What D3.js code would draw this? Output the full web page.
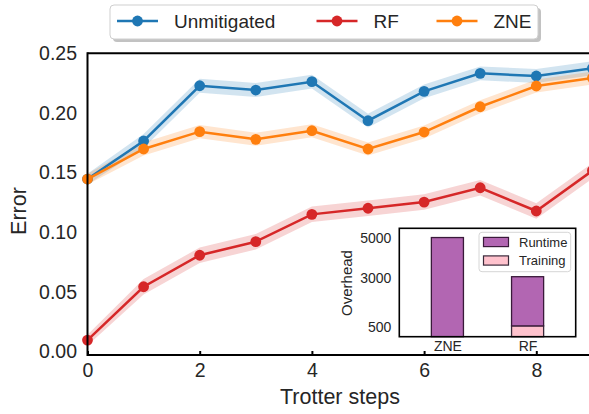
<!DOCTYPE html>
<html>
<head>
<meta charset="utf-8">
<script src="https://cdn.jsdelivr.net/npm/d3@7"></script>
<style>
  html, body { margin: 0; padding: 0; background: #fff; }
  svg { display: block; font-family: "Liberation Sans", Arial, sans-serif; }
</style>
</head>
<body>
<svg id="chart" width="589" height="414"></svg>
<script>
// ---------- data ----------
const steps = [0, 1, 2, 3, 4, 5, 6, 7, 8, 9];
const unmitigated = [0.1446, 0.1765, 0.2228, 0.2192, 0.2262, 0.1935, 0.2181, 0.2332, 0.2310, 0.2374];
const zne         = [0.1446, 0.1698, 0.1843, 0.1779, 0.1851, 0.1698, 0.1840, 0.2052, 0.2226, 0.2293];
const rf          = [0.0096, 0.0543, 0.0807, 0.0921, 0.1150, 0.1201, 0.1253, 0.1373, 0.1178, 0.1516];
const unmitigatedErr = [0.0045, 0.0058, 0.0058, 0.0058, 0.0058, 0.0058, 0.0058, 0.0058, 0.0058, 0.0058];
const zneErr         = [0.0045, 0.0055, 0.0055, 0.0055, 0.0055, 0.0055, 0.0055, 0.0055, 0.0055, 0.0055];
const rfErr          = [0.0045, 0.0065, 0.0065, 0.0065, 0.0065, 0.0065, 0.0065, 0.0065, 0.0065, 0.0065];
const xTicks = [0, 2, 4, 6, 8];
const yTicks = [0.00, 0.05, 0.10, 0.15, 0.20, 0.25];

const insetCategories = ["ZNE", "RF"];
const insetRuntime  = [5040, 2500];
const insetTraining = [0, 550];
const insetYTicks = [500, 3000, 5000];

const seriesNames = ["Unmitigated", "RF", "ZNE"];
const seriesColors = {"Unmitigated": "#1f77b4", "RF": "#d62728", "ZNE": "#ff7f0e"};

// ---------- layout ----------
const svg = d3.select("#chart");
const pLeft = 87.5, pTop = 53.3, pBottom = 355;
const x = d3.scaleLinear().domain([0, 9]).range([pLeft, pLeft + 9 * 56.1]);
const y = d3.scaleLinear().domain([-0.0029, 0.25]).range([pBottom, pTop]);
const pRight = x(9);

const series = [
  {name: "Unmitigated", values: unmitigated, err: unmitigatedErr},
  {name: "ZNE", values: zne, err: zneErr},
  {name: "RF", values: rf, err: rfErr}
];

const gData = svg.append("g");
const area = d3.area()
  .x(d => x(d.s)).y0(d => y(d.v - d.e)).y1(d => y(d.v + d.e));
const line = d3.line().x(d => x(d.s)).y(d => y(d.v));

series.forEach(sr => {
  const pts = steps.map((s, i) => ({s, v: sr.values[i], e: sr.err[i]}));
  gData.append("path").datum(pts)
    .attr("d", area).attr("fill", seriesColors[sr.name]).attr("fill-opacity", 0.2);
});
series.forEach(sr => {
  const pts = steps.map((s, i) => ({s, v: sr.values[i]}));
  gData.append("path").datum(pts)
    .attr("d", line).attr("fill", "none")
    .attr("stroke", seriesColors[sr.name]).attr("stroke-width", 2.5);
  gData.selectAll(null).data(pts).enter().append("circle")
    .attr("cx", d => x(d.s)).attr("cy", d => y(d.v)).attr("r", 5.4)
    .attr("fill", seriesColors[sr.name]);
});

// spines
svg.append("line").attr("x1", pLeft).attr("x2", 600).attr("y1", pTop).attr("y2", pTop)
  .attr("stroke", "#000").attr("stroke-width", 2);
svg.append("line").attr("x1", pLeft).attr("x2", 600).attr("y1", pBottom).attr("y2", pBottom)
  .attr("stroke", "#000").attr("stroke-width", 2);
svg.append("line").attr("x1", pLeft).attr("x2", pLeft).attr("y1", pTop - 1).attr("y2", pBottom + 1)
  .attr("stroke", "#000").attr("stroke-width", 2);

// x axis
const xAxis = d3.axisBottom(x).tickValues(xTicks).tickFormat(d3.format("d")).tickSize(0).tickPadding(0);
const gx = svg.append("g").attr("transform", `translate(0,${pBottom})`).call(xAxis);
gx.select(".domain").remove();
gx.selectAll(".tick text").attr("font-size", 19.5).attr("fill", "#262626").attr("y", 22).attr("dy", 0);
gx.selectAll(".tick").append("line").attr("y1", 0).attr("y2", -4)
  .attr("stroke", "#000").attr("stroke-width", 2);

// y axis
const yAxis = d3.axisLeft(y).tickValues(yTicks).tickFormat(d3.format(".2f")).tickSize(0).tickPadding(10.5);
const gy = svg.append("g").attr("transform", `translate(${pLeft},0)`).call(yAxis);
gy.select(".domain").remove();
gy.selectAll(".tick text").attr("font-size", 19.5).attr("fill", "#262626");

// axis labels
svg.append("text").attr("x", (pLeft + pRight) / 2).attr("y", 404)
  .attr("text-anchor", "middle").attr("font-size", 21.5).attr("fill", "#262626").text("Trotter steps");
svg.append("text").attr("transform", `translate(26,211) rotate(-90)`)
  .attr("text-anchor", "middle").attr("font-size", 21.5).attr("fill", "#262626").text("Error");

// ---------- main legend ----------
const lg = svg.append("g");
lg.append("rect").attr("x", 113).attr("y", 8).attr("width", 428).attr("height", 34).attr("rx", 4)
  .attr("fill", "#9a9a9a").attr("fill-opacity", 0.6);
lg.append("rect").attr("x", 110).attr("y", 5).attr("width", 428).attr("height", 34).attr("rx", 4)
  .attr("fill", "#fff").attr("stroke", "#cfcfcf").attr("stroke-width", 1);
const legendX = {"Unmitigated": 117, "RF": 316.5, "ZNE": 436.5};
seriesNames.forEach(n => {
  const lx = legendX[n];
  lg.append("line").attr("x1", lx).attr("x2", lx + 41).attr("y1", 21).attr("y2", 21)
    .attr("stroke", seriesColors[n]).attr("stroke-width", 2.5);
  lg.append("circle").attr("cx", lx + 20.5).attr("cy", 21).attr("r", 5.4).attr("fill", seriesColors[n]);
  lg.append("text").attr("x", lx + 57).attr("y", 21).attr("dy", "0.36em")
    .attr("font-size", 19).attr("fill", "#262626").text(n);
});

// ---------- inset ----------
const iL = 399.3, iR = 575.7, iT = 228.3, iB = 336.7;
const ix = d3.scaleLinear().domain([-0.6, 1.6]).range([iL, iR]);
const iy = d3.scaleLinear().domain([0, 5510]).range([iB, iT]);
const gi = svg.append("g");
gi.append("rect").attr("x", iL).attr("y", iT).attr("width", iR - iL).attr("height", iB - iT)
  .attr("fill", "#fff");
const bw = 0.4;
insetCategories.forEach((c, i) => {
  const t = insetTraining[i], r = insetRuntime[i];
  if (t > 0) {
    gi.append("rect").attr("x", ix(i - bw / 2)).attr("width", ix(bw) - ix(0))
      .attr("y", iy(t)).attr("height", iy(0) - iy(t))
      .attr("fill", "#ffc2cd").attr("stroke", "#3a2a3a").attr("stroke-width", 1.3);
  }
  gi.append("rect").attr("x", ix(i - bw / 2)).attr("width", ix(bw) - ix(0))
    .attr("y", iy(t + r)).attr("height", iy(t) - iy(t + r))
    .attr("fill", "#b266b2").attr("stroke", "#3a1a3a").attr("stroke-width", 1.3);
});
gi.append("rect").attr("x", iL).attr("y", iT).attr("width", iR - iL).attr("height", iB - iT)
  .attr("fill", "none").attr("stroke", "#000").attr("stroke-width", 1.6);

const iyAxis = d3.axisLeft(iy).tickValues(insetYTicks).tickFormat(d3.format("d")).tickSize(0).tickPadding(8);
const giy = gi.append("g").attr("transform", `translate(${iL},0)`).call(iyAxis);
giy.select(".domain").remove();
giy.selectAll(".tick text").attr("font-size", 14).attr("fill", "#262626");

const ixAxis = d3.axisBottom(ix).tickValues([0, 1]).tickFormat(d => insetCategories[d]).tickSize(0).tickPadding(0);
const gix = gi.append("g").attr("transform", `translate(0,${iB})`).call(ixAxis);
gix.select(".domain").remove();
gix.selectAll(".tick text").attr("font-size", 14).attr("fill", "#262626").attr("y", 14).attr("dy", 0);

gi.append("text").attr("transform", `translate(352,283) rotate(-90)`)
  .attr("text-anchor", "middle").attr("font-size", 15).attr("fill", "#262626").text("Overhead");

// inset legend
const il = gi.append("g");
il.append("rect").attr("x", 479).attr("y", 232.3).attr("width", 91.7).attr("height", 39.4).attr("rx", 3)
  .attr("fill", "#fff").attr("fill-opacity", 0.85).attr("stroke", "#d6d6d6");
const insetLegend = [
  {label: "Runtime", fill: "#b266b2", stroke: "#3a1a3a"},
  {label: "Training", fill: "#ffc2cd", stroke: "#3a2a3a"}
];
insetLegend.forEach((d, i) => {
  const cy = 242 + i * 18.5;
  il.append("rect").attr("x", 483.5).attr("y", cy - 4.6).attr("width", 25).attr("height", 9.2)
    .attr("fill", d.fill).attr("stroke", d.stroke).attr("stroke-width", 1.2);
  il.append("text").attr("x", 519).attr("y", cy).attr("dy", "0.36em")
    .attr("font-size", 13).attr("fill", "#262626").text(d.label);
});
</script>
</body>
</html>
